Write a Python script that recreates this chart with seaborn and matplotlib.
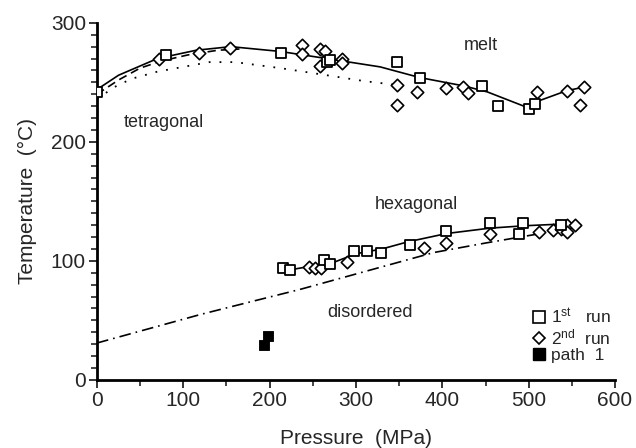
import matplotlib
matplotlib.use("Agg")
import matplotlib.pyplot as plt
import seaborn as sns
from matplotlib.lines import Line2D
from matplotlib.ticker import MultipleLocator

sns.set_style("ticks")
plt.rcParams['font.family'] = ['Liberation Sans', 'DejaVu Sans']
plt.rcParams['mathtext.fontset'] = 'custom'
plt.rcParams['mathtext.rm'] = 'Liberation Sans'
plt.rcParams['mathtext.it'] = 'Liberation Sans'

# ---- data (pressure MPa, temperature °C) ----
run1_melt_p = [0, 80, 213, 266, 270, 348, 374, 446, 464, 500, 507]
run1_melt_t = [242, 273, 275, 267, 269, 267, 254, 247, 230, 228, 232]
run2_melt_p = [72, 118, 154, 238, 238, 258, 264, 258, 284, 284, 348, 348, 371, 404, 424, 430, 510, 544, 564, 559]
run2_melt_t = [270, 275, 279, 281, 274, 278, 276, 264, 270, 266, 248, 231, 242, 245, 246, 241, 242, 243, 246, 231]

run1_hex_p = [215, 223, 263, 270, 298, 313, 329, 363, 404, 455, 489, 494, 537]
run1_hex_t = [94, 92, 101, 97, 108, 108, 107, 113, 125, 132, 123, 132, 130]
run2_hex_p = [245, 253, 260, 289, 379, 404, 455, 512, 528, 538, 544, 544, 554]
run2_hex_t = [95, 94, 94, 99, 111, 115, 123, 124, 126, 127, 130, 124, 130]

path1_p = [193, 198]
path1_t = [29, 37]

melt_line_p = [0, 25, 70, 115, 155, 212, 266, 328, 374, 425, 452, 498, 510, 544, 564]
melt_line_t = [244, 256, 270, 277, 280, 276, 270, 263, 254, 247, 242, 229, 234, 243, 246]
melt_dash_p = [0, 25, 50, 75, 105, 140, 165]
melt_dash_t = [240, 252, 262, 268, 273, 277, 278]
melt_dot_p = [0, 20, 40, 70, 100, 130, 160, 212, 266, 310, 345]
melt_dot_t = [236, 246, 253, 259, 263, 267, 267, 262, 256, 251, 248]
hex_line_p = [220, 275, 300, 330, 360, 405, 455, 495, 540]
hex_line_t = [92, 99, 106, 110, 116, 123, 127.5, 129.5, 131]
dis_line_p = [0, 60, 120, 180, 235, 310, 390, 450, 490, 530]
dis_line_t = [31, 43, 55, 66, 76, 91, 107, 115, 120, 125]

region_labels = ["melt", "tetragonal", "hexagonal", "disordered"]
region_p = [445, 77, 370, 316]
region_t = [281, 216, 147, 57]

legend_labels = ["1$^{\\mathrm{st}}$   run", "2$^{\\mathrm{nd}}$  run", "path  1"]

# ---- figure ----
fig = plt.figure(figsize=(6.36, 4.48), dpi=100)
ax = fig.add_axes([0.1525, 0.152, 0.8145, 0.797])

lw = 1.2
sns.lineplot(x=melt_line_p, y=melt_line_t, sort=False, color='black', lw=lw, ax=ax)
sns.lineplot(x=melt_dash_p, y=melt_dash_t, sort=False, color='black', lw=lw, ax=ax,
             linestyle=(0, (5, 3)))
sns.lineplot(x=melt_dot_p, y=melt_dot_t, sort=False, color='black', lw=1.3, ax=ax,
             linestyle=(0, (1, 5)))
sns.lineplot(x=hex_line_p, y=hex_line_t, sort=False, color='black', lw=lw, ax=ax)
sns.lineplot(x=dis_line_p, y=dis_line_t, sort=False, color='black', lw=lw, ax=ax,
             linestyle=(0, (7, 3, 1, 3)))

sq_kw = dict(marker='s', s=62, facecolor='white', edgecolor='black', linewidth=1.3, zorder=5)
di_kw = dict(marker='D', s=40, facecolor='white', edgecolor='black', linewidth=1.2, zorder=5)
sns.scatterplot(x=run2_melt_p, y=run2_melt_t, ax=ax, **di_kw)
sns.scatterplot(x=run2_hex_p, y=run2_hex_t, ax=ax, **di_kw)
sns.scatterplot(x=run1_melt_p, y=run1_melt_t, ax=ax, **sq_kw)
sns.scatterplot(x=run1_hex_p, y=run1_hex_t, ax=ax, **sq_kw)
sns.scatterplot(x=path1_p, y=path1_t, ax=ax, marker='s', s=62, color='black',
                edgecolor='black', zorder=6)

for lab, p, t in zip(region_labels, region_p, region_t):
    ax.text(p, t, lab, ha='center', va='center', fontsize=13)

ax.set_xlim(0, 600)
ax.set_ylim(0, 300)
ax.xaxis.set_major_locator(MultipleLocator(100))
ax.xaxis.set_minor_locator(MultipleLocator(50))
ax.yaxis.set_major_locator(MultipleLocator(100))
ax.yaxis.set_minor_locator(MultipleLocator(10))
ax.tick_params(which='major', length=6, width=1.3, labelsize=15, direction='out', pad=2)
ax.tick_params(which='minor', length=4, width=1.2, direction='out')
for s in ['left', 'bottom']:
    ax.spines[s].set_linewidth(2)
    ax.spines[s].set_color('black')
sns.despine(ax=ax)
ax.set_xlabel("Pressure  (MPa)", fontsize=15, labelpad=14)
ax.set_ylabel("Temperature  (°C)", fontsize=15, labelpad=10)

handles = [
    Line2D([], [], marker='s', ls='none', mfc='white', mec='black', ms=8, mew=1.2),
    Line2D([], [], marker='D', ls='none', mfc='white', mec='black', ms=6, mew=1.2),
    Line2D([], [], marker='s', ls='none', mfc='black', mec='black', ms=8),
]
ax.legend(handles, legend_labels, loc='upper left', bbox_to_anchor=(0.844, 0.205),
          frameon=False, fontsize=12.5, handlelength=0.6, handletextpad=0.35,
          labelspacing=0.05, borderaxespad=0, borderpad=0)

fig.savefig("out.png", dpi=100)
